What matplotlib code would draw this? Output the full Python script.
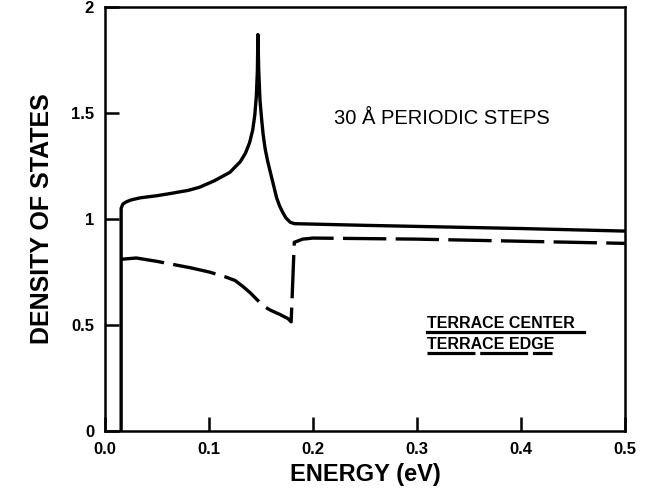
import numpy as np
import matplotlib.pyplot as plt

# energy (eV) / density of states
center_e = [0.0154, 0.0154, 0.017, 0.02, 0.025, 0.034, 0.05, 0.0625, 0.08, 0.091, 0.105,
            0.12, 0.125, 0.13, 0.135, 0.139, 0.142, 0.144, 0.1455, 0.1465, 0.147,
            0.1478, 0.149, 0.1506, 0.152, 0.154, 0.1565, 0.159, 0.162, 0.165, 0.168,
            0.171, 0.174, 0.178, 0.182, 0.25, 0.3, 0.4, 0.5]
center_dos = [0.0, 1.05, 1.07, 1.08, 1.09, 1.10, 1.11, 1.12, 1.135, 1.15, 1.18,
              1.22, 1.245, 1.27, 1.31, 1.36, 1.42, 1.49, 1.58, 1.70, 1.87,
              1.70, 1.56, 1.47, 1.40, 1.33, 1.27, 1.22, 1.16, 1.10, 1.06,
              1.03, 1.005, 0.985, 0.978, 0.97, 0.965, 0.955, 0.943]

edge_e = [0.0154, 0.03, 0.05, 0.082, 0.1, 0.114, 0.125, 0.133, 0.14, 0.146, 0.152,
          0.159, 0.168, 0.176, 0.179, 0.182, 0.19, 0.2, 0.3, 0.4, 0.5]
edge_dos = [0.81, 0.816, 0.80, 0.77, 0.75, 0.73, 0.71, 0.68, 0.65, 0.62, 0.59,
            0.57, 0.55, 0.53, 0.515, 0.89, 0.905, 0.91, 0.905, 0.895, 0.885]

plt.rcParams['font.family'] = ['Liberation Sans', 'DejaVu Sans']

fig = plt.figure(figsize=(6.57, 4.93), dpi=100)
ax = fig.add_axes([0.16, 0.1258, 0.791, 0.86])

ax.plot(center_e, center_dos, color='black', lw=2.4, solid_joinstyle='round')
ax.plot(edge_e, edge_dos, color='black', lw=2.4, dashes=(13, 2.8))

ax.set_xlim(0, 0.5)
ax.set_ylim(0, 2)
ax.set_xticks([0.0, 0.1, 0.2, 0.3, 0.4, 0.5])
ax.set_xticklabels(['0.0', '0.1', '0.2', '0.3', '0.4', '0.5'])
ax.set_yticks([0, 0.5, 1, 1.5, 2])
ax.set_yticklabels(['0', '0.5', '1', '1.5', '2'])
ax.tick_params(direction='in', length=10, width=1.8, labelsize=12, pad=8)
for lab in ax.get_xticklabels() + ax.get_yticklabels():
    lab.set_fontweight('bold')
for s in ax.spines.values():
    s.set_linewidth(1.8)

ax.set_xlabel('ENERGY (eV)', fontsize=17, fontweight='bold', labelpad=4)
ax.set_ylabel('DENSITY OF STATES', fontsize=18, fontweight='bold', labelpad=12)

ax.text(0.324, 1.475, '30 Å PERIODIC STEPS', fontsize=14.5, ha='center', va='center')

# legend: text with a line underneath
ax.text(0.31, 0.487, 'TERRACE CENTER', fontsize=11.5, fontweight='bold', ha='left', va='baseline')
ax.plot([0.31, 0.461], [0.468, 0.468], color='black', lw=2.3)
ax.text(0.31, 0.388, 'TERRACE EDGE', fontsize=11.5, fontweight='bold', ha='left', va='baseline')
ax.plot([0.31, 0.43], [0.369, 0.369], color='black', lw=2.3, dashes=(15, 1.5))

fig.savefig('out.png', dpi=100)
